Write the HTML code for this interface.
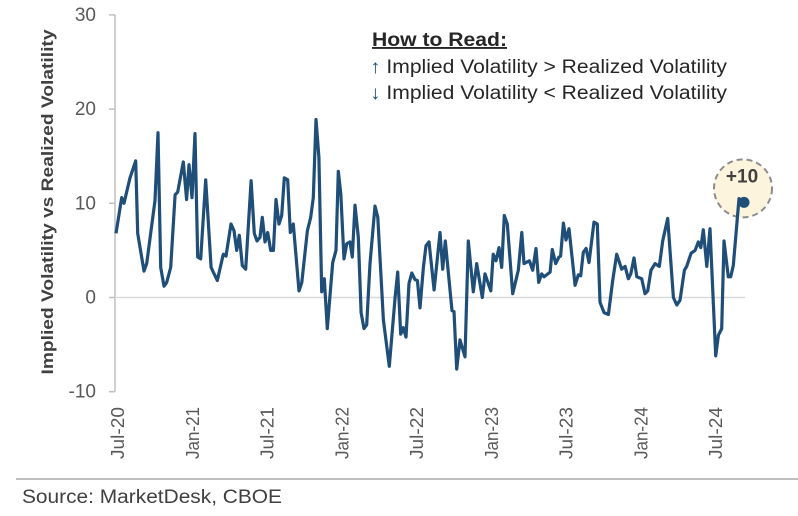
<!DOCTYPE html>
<html><head><meta charset="utf-8"><style>
html,body{margin:0;padding:0;background:#fff;width:798px;height:516px;overflow:hidden}
svg{display:block;font-family:"Liberation Sans",Arial,sans-serif}
</style></head><body>
<svg id="chart" width="798" height="516">
<g id="axes"></g>
<g id="series"></g>
<g id="annot">
<text x="372" y="46" font-size="19" font-weight="bold" fill="#262626" text-decoration="underline" textLength="135" lengthAdjust="spacingAndGlyphs">How to Read:</text>
<text x="370" y="73" font-size="19" fill="#262626" textLength="357" lengthAdjust="spacingAndGlyphs"><tspan fill="#1f4e79">↑</tspan> Implied Volatility &gt; Realized Volatility</text>
<text x="370" y="99" font-size="19" fill="#262626" textLength="357" lengthAdjust="spacingAndGlyphs"><tspan fill="#1f4e79">↓</tspan> Implied Volatility &lt; Realized Volatility</text>
</g>
<text transform="translate(53,202) rotate(-90)" text-anchor="middle" font-size="17" font-weight="bold" fill="#404040" textLength="345" lengthAdjust="spacingAndGlyphs">Implied Volatility vs Realized Volatility</text>
<line x1="16" y1="479" x2="798" y2="479" stroke="#bfbfbf" stroke-width="2"/>
<text x="22" y="503" font-size="19" fill="#404040" textLength="260" lengthAdjust="spacingAndGlyphs">Source: MarketDesk, CBOE</text>
</svg>
<script>
const yTicks=[30,20,10,0,-10];
const xTickLabels=["Jul-20","Jan-21","Jul-21","Jan-22","Jul-22","Jan-23","Jul-23","Jan-24","Jul-24"];
const xTickMonths=[0,6,12,18,24,30,36,42,48];
const months=[-0.08,0.38,0.56,1.04,1.50,1.66,2.17,2.38,3.05,3.29,3.51,3.77,3.99,4.31,4.66,4.87,5.32,5.59,5.78,6.02,6.26,6.48,6.72,7.12,7.55,8.05,8.53,8.75,9.15,9.39,9.61,9.82,10.06,10.33,10.76,11.02,11.24,11.48,11.66,11.88,12.10,12.34,12.55,12.76,13.00,13.22,13.43,13.70,13.91,14.15,14.61,14.83,15.28,15.55,15.76,15.97,16.21,16.43,16.64,16.88,17.31,17.58,17.76,17.96,18.22,18.44,18.70,18.89,19.10,19.37,19.59,19.83,20.04,20.31,20.71,20.93,21.38,21.86,22.32,22.53,22.77,22.98,23.20,23.44,23.66,23.92,24.11,24.32,24.59,24.80,25.04,25.45,25.93,26.14,26.35,26.89,27.05,27.27,27.53,27.93,28.20,28.60,28.87,29.32,29.54,30.00,30.20,30.42,30.66,30.88,31.09,31.33,31.76,32.21,32.49,32.67,33.10,33.37,33.63,33.85,34.09,34.28,34.76,34.94,35.21,35.48,35.61,35.83,36.04,36.28,36.77,37.03,37.22,37.43,37.65,37.89,38.29,38.55,38.77,39.09,39.44,39.79,40.11,40.51,40.78,41.04,41.24,41.50,41.72,42.12,42.38,42.60,42.86,43.19,43.53,43.80,44.20,44.66,44.93,45.19,45.54,45.73,46.08,46.40,46.66,46.86,47.06,47.34,47.60,48.06,48.27,48.54,48.72,49.07,49.26,49.47,49.93,50.33];
const spread=[6.8,10.6,10,12.7,14.5,6.8,2.8,3.6,10.3,17.5,3.2,1.2,1.6,3.2,10.9,11.2,14.4,10.4,14.1,10.6,17.4,4.3,4.1,12.5,3.2,1.8,4.6,4.4,7.8,7.1,5.0,6.6,3.4,3.0,12.4,6.8,6.0,6.4,8.5,5.9,6.9,5.0,5.0,10.4,7.8,8.7,12.7,12.5,6.9,7.8,0.7,1.6,7.1,8.5,10.6,18.9,14.9,0.6,2.0,-3.3,3.7,5.0,13.4,11.0,4.1,5.7,5.9,4.3,9.8,6.4,-1.6,-3.3,-2.9,3.6,9.7,8.5,-2.4,-7.3,0,2.7,-3.9,-3.2,-4.2,1.5,2.6,1.9,1.8,-1.1,3.2,5.5,5.9,0.8,6.9,3.0,6.0,-1.4,-1.5,-7.6,-4.5,-6.3,6.0,0.6,3.6,0,2.5,0.7,4.6,3.9,5.3,3.2,8.7,7.8,0.4,2.9,6.9,3.6,3.9,2.9,5.2,1.6,2.5,2.2,2.7,5.1,3.6,4.3,4.4,7.9,6.1,7.3,1.3,2.4,2.3,4.8,5.2,3.7,8.0,7.8,-0.5,-1.6,-1.8,1.8,4.6,3.0,3.3,2.0,2.5,4.2,2.2,2.0,0.4,0.7,2.9,3.6,3.3,6.0,8.4,0,-0.8,-0.3,2.9,3.3,4.7,5.0,5.9,5.3,7.2,3.3,7.3,-6.2,-4.0,-3.3,6.0,2.2,2.2,3.4,10.5,10.1];
const latestLabel="+10";

const NS="http://www.w3.org/2000/svg";
function xS(m){return 117+m*(74.75/6);}
function yS(v){return 297.5-v*9.42;}
function mk(tag,attrs,parent){const e=document.createElementNS(NS,tag);for(const k in attrs)e.setAttribute(k,attrs[k]);parent.appendChild(e);return e;}
const axes=document.getElementById('axes'),series=document.getElementById('series');
const ya=mk('line',{x1:115,y1:yS(30),x2:115,y2:yS(-10),stroke:'#bfbfbf','stroke-width':1.5},axes);


yTicks.forEach(t=>{
  const tk=mk('line',{x1:109,y1:yS(t),x2:115,y2:yS(t),stroke:'#bfbfbf','stroke-width':1.5},axes);
  
  
  const lb=mk('text',{x:96,y:yS(t)+6,'text-anchor':'end','font-size':19,fill:'#595959'},axes);
  lb.textContent=t;
  
  
});
const zl=mk('line',{x1:115,y1:yS(0),x2:745,y2:yS(0),stroke:'#d9d9d9','stroke-width':1.5},axes);


xTickLabels.forEach((s,i)=>{
  const x=xS(xTickMonths[i]);
  const lb=mk('text',{transform:`translate(${x+7},407) rotate(-90)`,'text-anchor':'end','font-size':18,fill:'#595959',textLength:52,lengthAdjust:'spacingAndGlyphs'},axes);
  lb.textContent=s;
  
  
});
const pts=months.map((m,i)=>xS(m).toFixed(1)+','+yS(spread[i]).toFixed(1)).join(' ');
const lx=xS(months[months.length-1]),ly=yS(spread[spread.length-1]);
const circ=mk('circle',{cx:lx-1,cy:ly-14,r:29,fill:'#fdf4de',stroke:'#8c8c8c','stroke-width':2,'stroke-dasharray':'6,4'},series);


const pl=mk('polyline',{points:pts,fill:'none',stroke:'#1f4e79','stroke-width':3.2,'stroke-linejoin':'round'},series);


const dot=mk('circle',{cx:lx,cy:ly,r:5.5,fill:'#1f4e79'},series);


const ct=mk('text',{x:lx-2,y:ly-20,'text-anchor':'middle','font-size':19,'font-weight':'bold',fill:'#404040'},series);
ct.textContent=latestLabel;


</script>
</body></html>
